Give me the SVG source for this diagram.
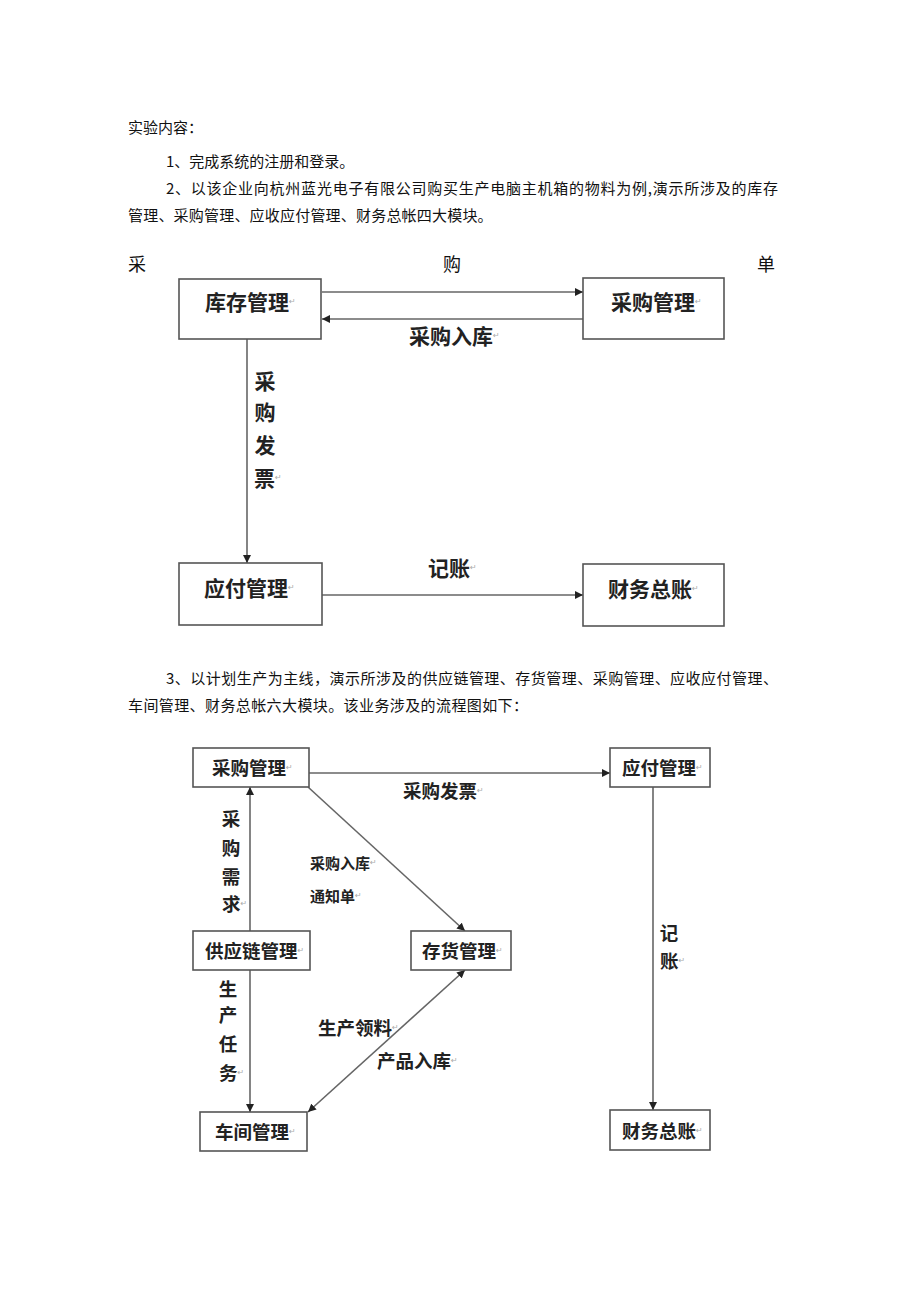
<svg xmlns="http://www.w3.org/2000/svg" width="920" height="1301" viewBox="0 0 920 1301">
<style>
.body{font-family:"Noto Sans CJK SC","Liberation Serif",serif;font-size:15px;fill:#111;dominant-baseline:central}
.title{font-family:"Noto Sans CJK SC","Liberation Sans",sans-serif;font-size:18px;fill:#111;dominant-baseline:central;text-anchor:middle}
.box{fill:#fff;stroke:#555;stroke-width:1.6}
.lbl{font-family:"Noto Sans CJK SC","Liberation Sans",sans-serif;font-weight:bold;fill:#222;dominant-baseline:central}
.big{font-size:21px}
.mid{font-size:18.5px}
.sm{font-size:15px}
.v{text-anchor:middle}
.pm{font-family:"DejaVu Sans",sans-serif;font-weight:normal;font-size:8px;fill:#aaa}
.edge{stroke:#666;stroke-width:1.6;fill:none}
</style>
<defs>
<marker id="ah" viewBox="0 0 10 10" refX="10" refY="5" markerWidth="8" markerHeight="8" markerUnits="userSpaceOnUse" orient="auto-start-reverse">
<path d="M0,0 L10,5 L0,10 z" fill="#222"/>
</marker>
</defs>
<rect width="920" height="1301" fill="#fff"/>

<g id="text-intro">
<text class="body" x="128" y="126">实验内容：</text>
<text class="body" x="166" y="160">1、完成系统的注册和登录。</text>
<text class="body" x="166" y="187" textLength="612" lengthAdjust="spacing">2、以该企业向杭州蓝光电子有限公司购买生产电脑主机箱的物料为例,演示所涉及的库存</text>
<text class="body" x="128" y="214" letter-spacing="0.2">管理、采购管理、应收应付管理、财务总帐四大模块。</text>
</g>

<g id="title-caigoudan">
<text class="title" x="137" y="263">采</text>
<text class="title" x="452" y="263">购</text>
<text class="title" x="766" y="263">单</text>
</g>

<g id="connectors-1">
<line class="edge" x1="322" y1="292" x2="583" y2="292" marker-end="url(#ah)"/>
<line class="edge" x1="583" y1="319" x2="322" y2="319" marker-end="url(#ah)"/>
<line class="edge" x1="247" y1="339" x2="247" y2="563" marker-end="url(#ah)"/>
<line class="edge" x1="322" y1="595" x2="583" y2="595" marker-end="url(#ah)"/>
</g>

<g id="labels-1">
<text class="lbl big" x="409" y="335">采购入库<tspan class="pm">↵</tspan></text>
<text class="lbl big v" x="265" y="380">采</text>
<text class="lbl big v" x="265" y="411">购</text>
<text class="lbl big v" x="265" y="444">发</text>
<text class="lbl big" x="254" y="477">票<tspan class="pm">↵</tspan></text>
<text class="lbl big" x="428" y="567">记账<tspan class="pm">↵</tspan></text>
</g>

<g id="node-kucun">
<rect class="box" x="179" y="279" width="142" height="60"/>
<text class="lbl big" x="205" y="301">库存管理<tspan class="pm">↵</tspan></text>
</g>
<g id="node-caigou-1">
<rect class="box" x="583" y="278" width="141" height="61"/>
<text class="lbl big" x="611" y="301">采购管理<tspan class="pm">↵</tspan></text>
</g>
<g id="node-yingfu-1">
<rect class="box" x="179" y="563" width="143" height="62"/>
<text class="lbl big" x="204" y="587">应付管理<tspan class="pm">↵</tspan></text>
</g>
<g id="node-caiwu-1">
<rect class="box" x="583" y="564" width="141" height="62"/>
<text class="lbl big" x="608" y="588">财务总账<tspan class="pm">↵</tspan></text>
</g>

<g id="text-para3">
<text class="body" x="166" y="677" textLength="612" lengthAdjust="spacing">3、以计划生产为主线，演示所涉及的供应链管理、存货管理、采购管理、应收应付管理、</text>
<text class="body" x="128" y="704" letter-spacing="0.4">车间管理、财务总帐六大模块。该业务涉及的流程图如下：</text>
</g>

<g id="connectors-2">
<line class="edge" x1="309" y1="773" x2="610" y2="773" marker-end="url(#ah)"/>
<line class="edge" x1="250" y1="931" x2="250" y2="787" marker-end="url(#ah)"/>
<line class="edge" x1="308" y1="787" x2="465" y2="931" marker-end="url(#ah)"/>
<line class="edge" x1="250" y1="970" x2="250" y2="1112" marker-end="url(#ah)"/>
<line class="edge" x1="308" y1="1112" x2="465" y2="970" marker-start="url(#ah)" marker-end="url(#ah)"/>
<line class="edge" x1="653" y1="787" x2="653" y2="1110" marker-end="url(#ah)"/>
</g>

<g id="labels-2">
<text class="lbl mid" x="403" y="790">采购发票<tspan class="pm">↵</tspan></text>
<text class="lbl mid v" x="231" y="818">采</text>
<text class="lbl mid v" x="231" y="847">购</text>
<text class="lbl mid v" x="231" y="876">需</text>
<text class="lbl mid" x="222" y="903">求<tspan class="pm">↵</tspan></text>
<text class="lbl sm" x="310" y="862">采购入库<tspan class="pm">↵</tspan></text>
<text class="lbl sm" x="310" y="895">通知单<tspan class="pm">↵</tspan></text>
<text class="lbl mid v" x="228" y="988">生</text>
<text class="lbl mid v" x="228" y="1014">产</text>
<text class="lbl mid v" x="228" y="1043">任</text>
<text class="lbl mid" x="219" y="1072">务<tspan class="pm">↵</tspan></text>
<text class="lbl mid" x="318" y="1027">生产领料<tspan class="pm">↵</tspan></text>
<text class="lbl mid" x="377" y="1060">产品入库<tspan class="pm">↵</tspan></text>
<text class="lbl mid v" x="669" y="932">记</text>
<text class="lbl mid" x="660" y="960">账<tspan class="pm">↵</tspan></text>
</g>

<g id="node-caigou-2">
<rect class="box" x="193" y="748" width="116" height="39"/>
<text class="lbl mid" x="212" y="767">采购管理<tspan class="pm">↵</tspan></text>
</g>
<g id="node-yingfu-2">
<rect class="box" x="610" y="748" width="100" height="39"/>
<text class="lbl mid" x="622" y="767">应付管理<tspan class="pm">↵</tspan></text>
</g>
<g id="node-gongyinglian">
<rect class="box" x="193" y="931" width="117" height="39"/>
<text class="lbl mid" x="205" y="950">供应链管理<tspan class="pm">↵</tspan></text>
</g>
<g id="node-cunhuo">
<rect class="box" x="411" y="931" width="100" height="39"/>
<text class="lbl mid" x="422" y="950">存货管理<tspan class="pm">↵</tspan></text>
</g>
<g id="node-chejian">
<rect class="box" x="200" y="1112" width="107" height="39"/>
<text class="lbl mid" x="215" y="1131">车间管理<tspan class="pm">↵</tspan></text>
</g>
<g id="node-caiwu-2">
<rect class="box" x="610" y="1110" width="100" height="40"/>
<text class="lbl mid" x="622" y="1130">财务总账<tspan class="pm">↵</tspan></text>
</g>
</svg>
